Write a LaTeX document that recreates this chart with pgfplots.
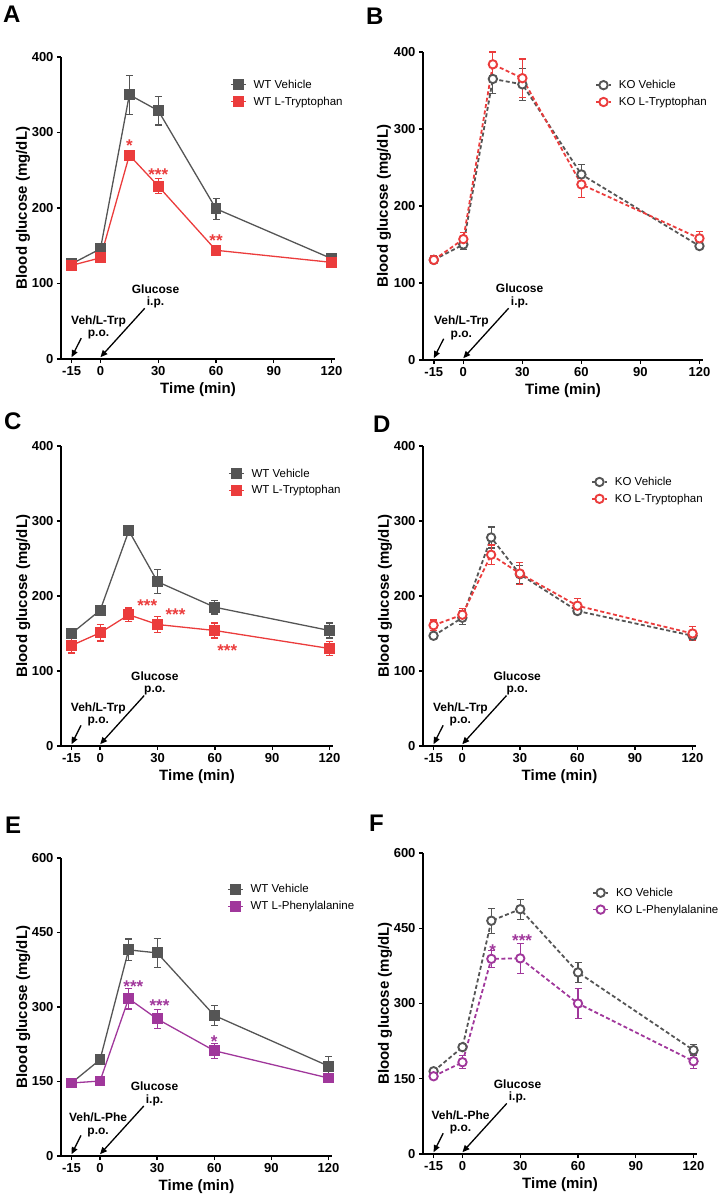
\documentclass[border=0pt]{standalone}
\usepackage{fontspec}
\setmainfont{Liberation Sans}
\usepackage{pgfplots}
\pgfplotsset{compat=1.18}
\usetikzlibrary{arrows.meta}
\definecolor{cgray}{RGB}{85,85,85}
\definecolor{cred}{RGB}{235,60,60}
\definecolor{cpur}{RGB}{160,55,155}

\pgfplotsset{
 prism/.style={
  scale only axis, anchor=south west,
  axis lines=left, axis line style={-, line width=1.6pt, black},
  xmin=-20.5, xmax=121.8, ymin=0,
  xtick={-15,0,30,60,90,120}, xticklabels={-15,0,30,60,90,120},
  tick align=outside, major tick length=4pt, tick style={line width=1.4pt, black},
  ticklabel style={font=\bfseries\fontsize{13}{15}\selectfont},
  /pgf/number format/assume math mode=true,
  xlabel={Time (min)}, ylabel={Blood glucose (mg/dL)},
  label style={font=\bfseries\fontsize{15}{17}\selectfont},
  xlabel style={at={(axis description cs:0.5,0)}, anchor=base, yshift=-34pt},
  ylabel style={at={(axis description cs:-0.139,0.5)}, anchor=center},
  clip=false,
  legend style={draw=none, fill=none, anchor=west, inner sep=0pt, row sep=3pt,
    font=\fontsize{11.5}{13}\selectfont,
    /tikz/every odd column/.append style={column sep=5pt}},
  legend cell align=left,
  legend image code/.code={\draw[mark repeat=2,mark phase=2] plot coordinates {(0pt,0pt) (7.5pt,0pt) (15pt,0pt)};},
 },
 y400/.style={ymax=400, ytick={0,100,200,300,400}, yticklabels={0,100,200,300,400}},
 y600/.style={ymax=600, ytick={0,150,300,450,600}, yticklabels={0,150,300,450,600}},
 wt/.style={solid, line width=1.3pt, mark=square*, mark size=4.8pt, color=#1, mark options={solid}},
 ko/.style={dash pattern=on 4pt off 2.5pt, line width=1.8pt, mark=*, mark size=4.2pt, color=#1, mark options={solid, fill=white, line width=1.9pt}},
 eb/.style={error bars/.cd, y dir=both, y explicit,
   error bar style={solid, line width=1.2pt},
   error mark options={solid, rotate=90, mark size=3.5pt, line width=1.2pt}},
}
\tikzset{
 ann/.style={font=\bfseries\fontsize{12}{12.5}\selectfont, align=center, inner sep=0pt},
 arr/.style={line width=1.3pt, -{Triangle[length=7pt,width=6pt]}},
 sig/.style={font=\bfseries\fontsize{17}{17}\selectfont, text=#1, inner sep=0pt, yshift=-4pt},
 plabel/.style={font=\bfseries\fontsize{24}{24}\selectfont, anchor=base west, inner sep=0pt},
}
\newcommand{\annot}[2]{%
 \node[ann] at (rel axis cs:0.137,0.105) {#1\\p.o.};
 \node[ann] at (rel axis cs:0.345,0.208) {Glucose\\#2};
 \draw[arr] (rel axis cs:0.0738,0.069) -- (rel axis cs:0.0387,0.006);
 \draw[arr] (rel axis cs:0.3057,0.168) -- (rel axis cs:0.144,0.006);
}

% Panel A
\pgfplotstableread{
x y e
-15 126 3
0 146 4
15 350 26
30 329 19
60 199 14
120 133 3
}\Agray
\pgfplotstableread{
x y e
-15 124 3
0 134 4
15 270 4
30 229 10
60 144 3
120 128 3
}\Ared
% Panel B
\pgfplotstableread{
x y e
-15 130 5
0 150 7
15 365 19
30 358 21
60 241 13
120 148 5
}\Bgray
\pgfplotstableread{
x y e
-15 130 5
0 157 9
15 384 16
30 366 25
60 228 17
120 158 9
}\Bred
% Panel C
\pgfplotstableread{
x y e
-15 150 7
0 181 6
15 287 5
30 219 16
60 185 9
120 154 10
}\Cgray
\pgfplotstableread{
x y e
-15 134 10
0 151 11
15 175 9
30 162 11
60 154 10
120 130 9
}\Cred
% Panel D
\pgfplotstableread{
x y e
-15 147 4
0 171 9
15 278 14
30 229 12
60 180 5
120 147 5
}\Dgray
\pgfplotstableread{
x y e
-15 161 7
0 175 8
15 255 13
30 230 15
60 187 10
120 150 9
}\Dred
% Panel E
\pgfplotstableread{
x y e
-15 147 3
0 194 8
15 415 22
30 409 29
60 283 20
120 181 19
}\Egray
\pgfplotstableread{
x y e
-15 147 3
0 151 4
15 317 21
30 276 19
60 212 15
120 157 5
}\Epur
% Panel F
\pgfplotstableread{
x y e
-15 165 5
0 213 7
15 465 25
30 488 20
60 362 20
120 207 11
}\Fgray
\pgfplotstableread{
x y e
-15 155 5
0 183 13
15 389 17
30 390 30
60 300 30
120 185 14
}\Fpur

\begin{document}
\begin{tikzpicture}
\path[use as bounding box] (0,0) rectangle (724pt,-1199pt);

\node[plabel] at (3pt,-23pt) {A};
\node[plabel] at (366pt,-25pt) {B};
\node[plabel] at (4pt,-429pt) {C};
\node[plabel] at (373pt,-432pt) {D};
\node[plabel] at (5pt,-833pt) {E};
\node[plabel] at (369pt,-831pt) {F};

% A
\begin{axis}[prism, y400, at={(61pt,-359pt)}, width=274pt, height=302pt,
  legend style={at={(rel axis cs:0.617,0.88)}}]
\addplot+[wt=cgray, eb] table[x=x,y=y,y error=e] {\Agray};
\addlegendentry{WT Vehicle}
\addplot+[wt=cred, eb] table[x=x,y=y,y error=e] {\Ared};
\addlegendentry{WT L-Tryptophan}
\node[sig=cred] at (axis cs:15,288) {*};
\node[sig=cred] at (axis cs:30,249) {***};
\node[sig=cred] at (axis cs:60,162) {**};
\annot{Veh/L-Trp}{i.p.}
\end{axis}

% B
\begin{axis}[prism, y400, at={(423pt,-360pt)}, width=280pt, height=308pt,
  legend style={at={(rel axis cs:0.614,0.865)}}]
\addplot+[ko=cgray, eb] table[x=x,y=y,y error=e] {\Bgray};
\addlegendentry{KO Vehicle}
\addplot+[ko=cred, eb] table[x=x,y=y,y error=e] {\Bred};
\addlegendentry{KO L-Tryptophan}
\annot{Veh/L-Trp}{i.p.}
\end{axis}

% C
\begin{axis}[prism, y400, at={(61pt,-746pt)}, width=272pt, height=300pt,
  legend style={at={(rel axis cs:0.614,0.88)}}]
\addplot+[wt=cgray, eb] table[x=x,y=y,y error=e] {\Cgray};
\addlegendentry{WT Vehicle}
\addplot+[wt=cred, eb] table[x=x,y=y,y error=e] {\Cred};
\addlegendentry{WT L-Tryptophan}
\node[sig=cred] at (axis cs:24.6,192) {***};
\node[sig=cred] at (axis cs:39.4,180) {***};
\node[sig=cred] at (axis cs:66.5,133) {***};
\annot{Veh/L-Trp}{p.o.}
\end{axis}

% D
\begin{axis}[prism, y400, at={(423pt,-746pt)}, width=273pt, height=300pt,
  legend style={at={(rel axis cs:0.615,0.852)}}]
\addplot+[ko=cgray, eb] table[x=x,y=y,y error=e] {\Dgray};
\addlegendentry{KO Vehicle}
\addplot+[ko=cred, eb] table[x=x,y=y,y error=e] {\Dred};
\addlegendentry{KO L-Tryptophan}
\annot{Veh/L-Trp}{p.o.}
\end{axis}

% E
\begin{axis}[prism, y600, at={(61pt,-1156pt)}, width=271pt, height=298pt,
  legend style={at={(rel axis cs:0.613,0.866)}}]
\addplot+[wt=cgray, eb] table[x=x,y=y,y error=e] {\Egray};
\addlegendentry{WT Vehicle}
\addplot+[wt=cpur, eb] table[x=x,y=y,y error=e] {\Epur};
\addlegendentry{WT L-Phenylalanine}
\node[sig=cpur] at (axis cs:17.5,349) {***};
\node[sig=cpur] at (axis cs:31.2,311) {***};
\node[sig=cpur] at (axis cs:60,239) {*};
\annot{Veh/L-Phe}{i.p.}
\end{axis}

% F
\begin{axis}[prism, y600, at={(423pt,-1154pt)}, width=274pt, height=301pt,
  legend style={at={(rel axis cs:0.617,0.84)}}]
\addplot+[ko=cgray, eb] table[x=x,y=y,y error=e] {\Fgray};
\addlegendentry{KO Vehicle}
\addplot+[ko=cpur, eb] table[x=x,y=y,y error=e] {\Fpur};
\addlegendentry{KO L-Phenylalanine}
\node[sig=cpur] at (axis cs:15.7,414) {*};
\node[sig=cpur] at (axis cs:31,434) {***};
\annot{Veh/L-Phe}{i.p.}
\end{axis}
\end{tikzpicture}
\end{document}
